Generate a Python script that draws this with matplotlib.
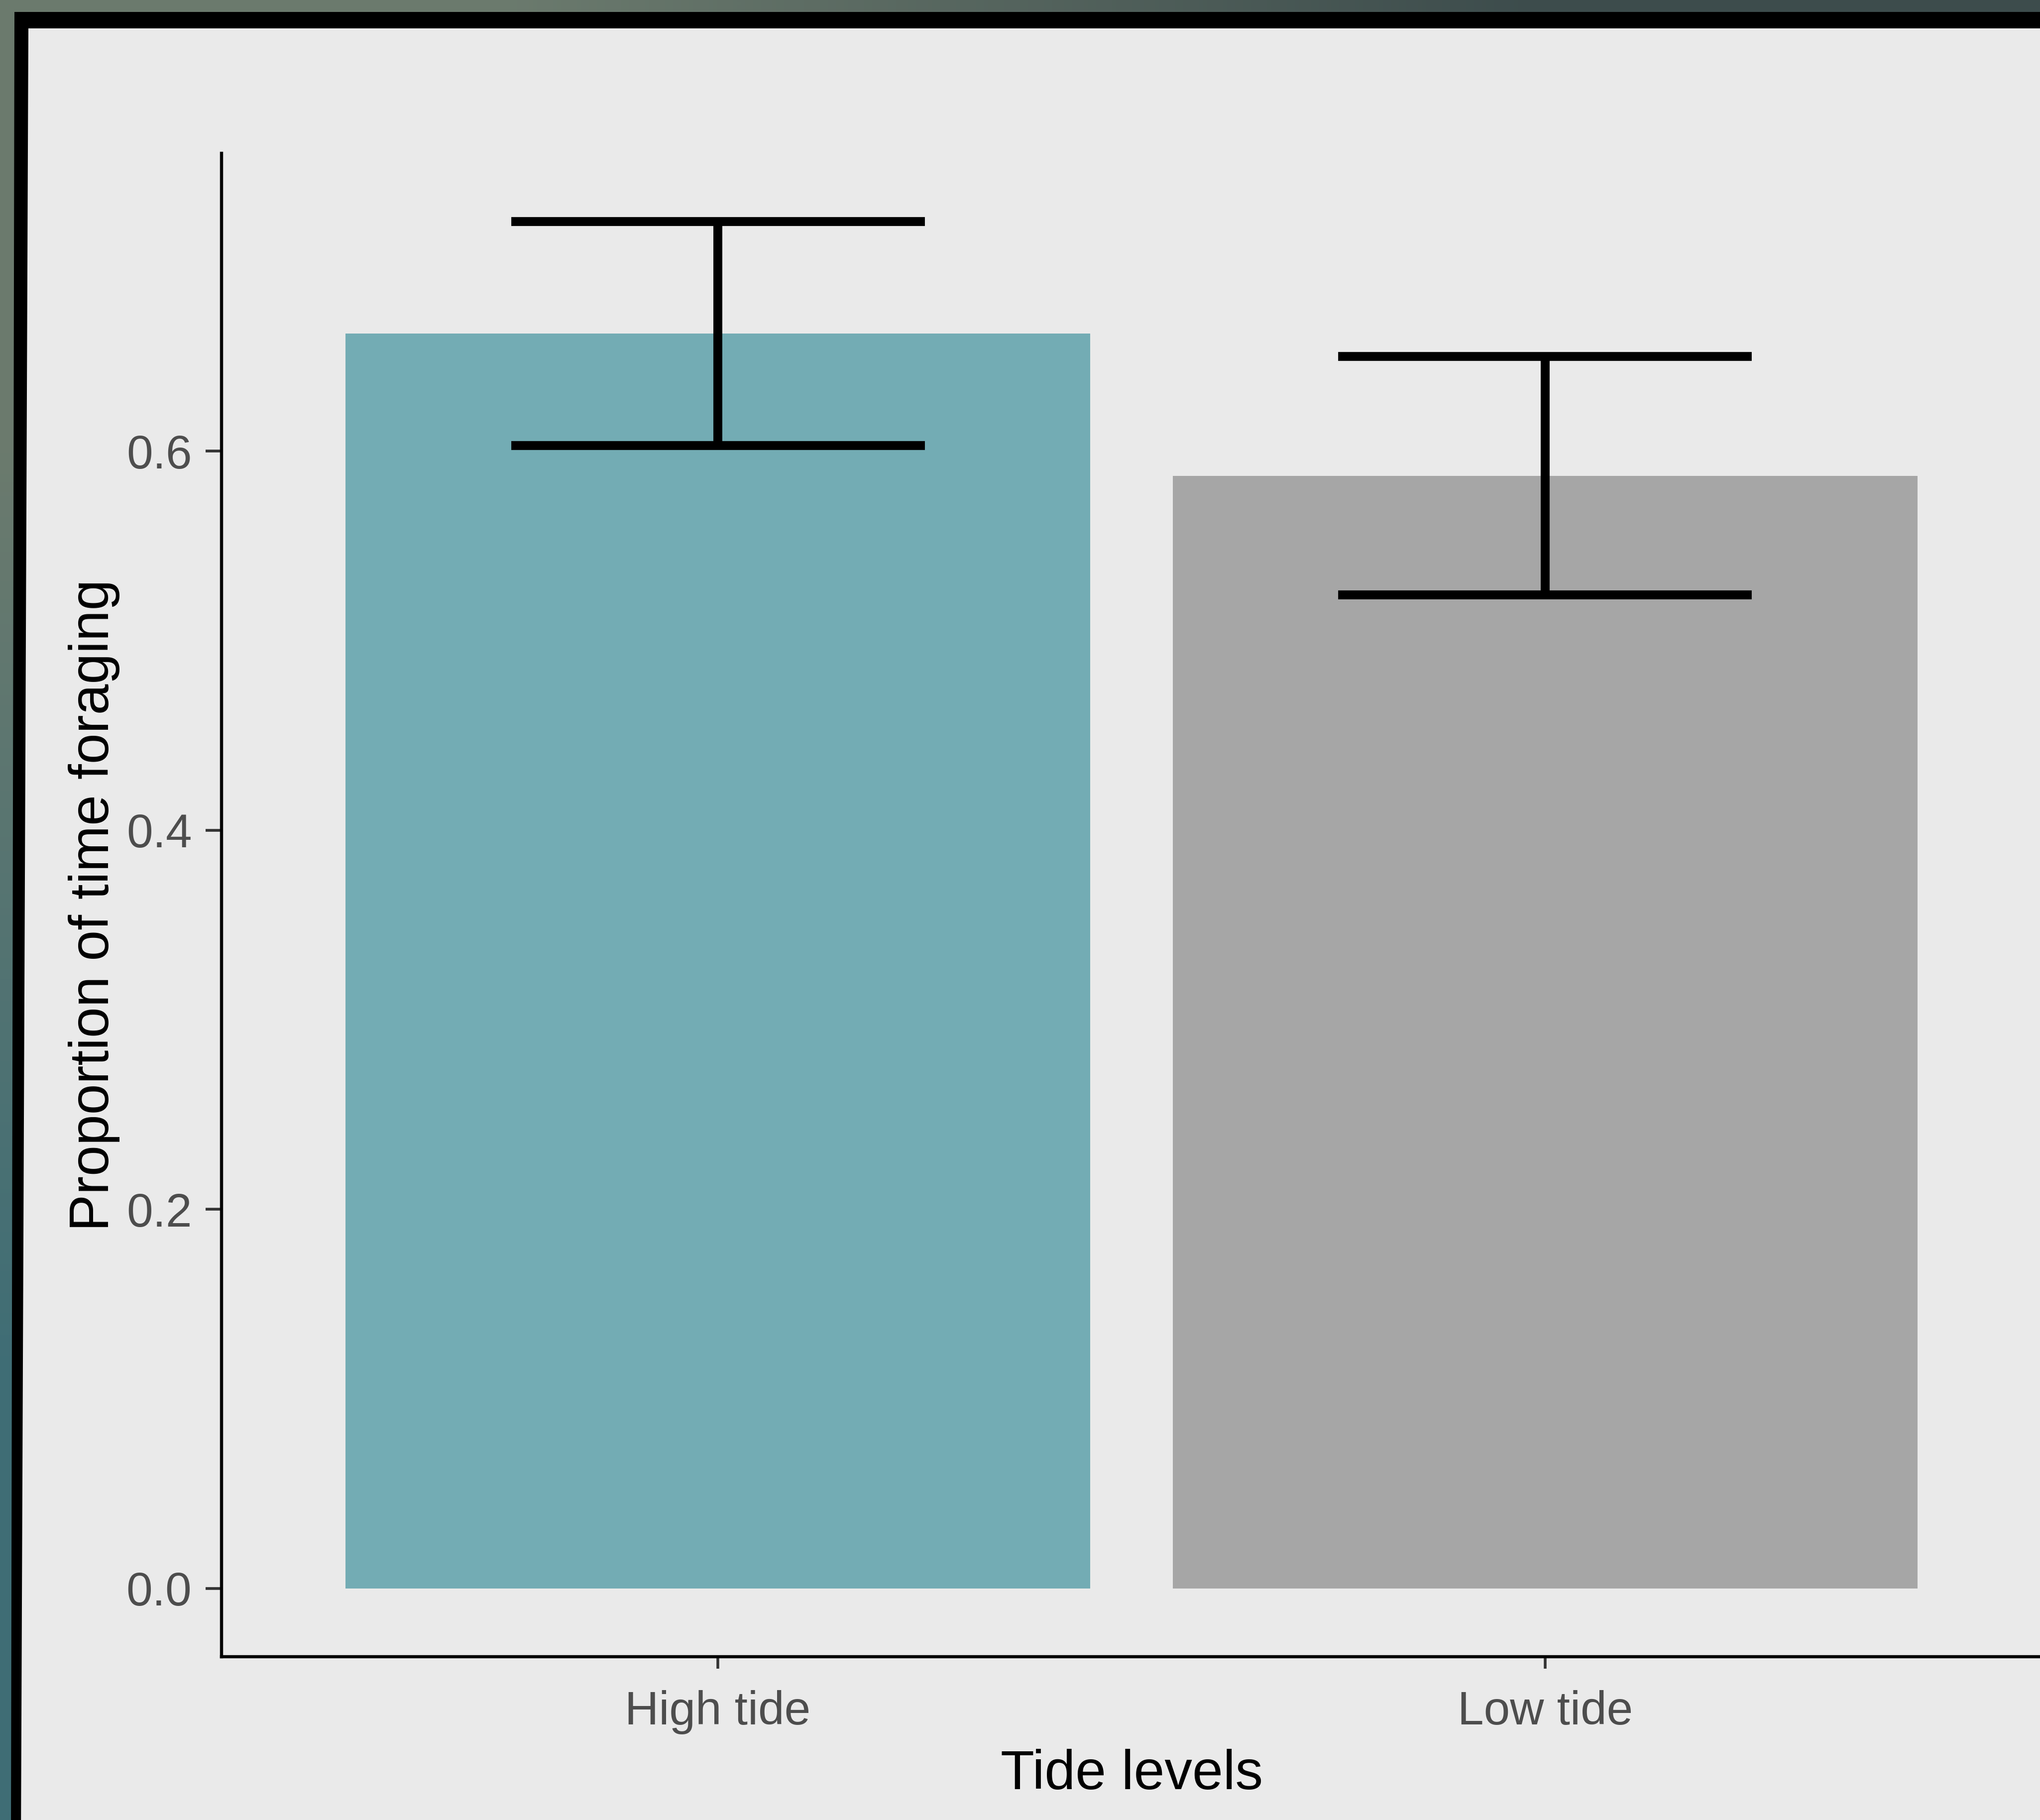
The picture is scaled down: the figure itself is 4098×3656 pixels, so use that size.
import numpy as np
import matplotlib
matplotlib.use('Agg')
import matplotlib.pyplot as plt
from matplotlib.patches import Polygon

# ── data ──────────────────────────────────────────────────────────────
tides = ['High tide', 'Low tide']
mean_forage = [0.662, 0.587]
se_forage = [0.059, 0.063]
bar_colors = ['#73ACB4', '#A6A6A6']

# ── canvas ────────────────────────────────────────────────────────────
W, H = 4098, 3656
DPI = 100
plt.rcParams['font.family'] = ['Liberation Sans', 'DejaVu Sans']

fig = plt.figure(figsize=(W / DPI, H / DPI), dpi=DPI)

# screenshot surround: photo edge + black window frame
bg = fig.add_axes([0, 0, 1, 1], zorder=0)
bg.set_xlim(0, W)
bg.set_ylim(H, 0)
bg.axis('off')
photo = np.array([[[0.42, 0.48, 0.43], [0.24, 0.30, 0.30]],
                  [[0.25, 0.43, 0.46], [0.25, 0.40, 0.42]]])
bg.imshow(photo, extent=(0, W, H, 0), interpolation='bilinear', aspect='auto')
bg.add_patch(Polygon([(29, 24), (W + 50, 24), (W + 50, H + 50), (22, H + 50)],
                     closed=True, facecolor='black', edgecolor='none'))
bg.add_patch(Polygon([(57, 57), (W + 50, 57), (W + 50, H + 50), (42, H + 50)],
                     closed=True, facecolor='#EAEAEA', edgecolor='none'))

# ── plot panel ────────────────────────────────────────────────────────
ax_l, ax_r, ax_t, ax_b = 445, 4101, 308, 3328
ax = fig.add_axes([ax_l / W, 1 - ax_b / H, (ax_r - ax_l) / W, (ax_b - ax_t) / H],
                  zorder=1)
ax.set_facecolor('none')

x = np.arange(1, len(tides) + 1)
mean = np.array(mean_forage)
se = np.array(se_forage)

ax.bar(x, mean, width=0.9, color=bar_colors, zorder=2)
ax.vlines(x, mean - se, mean + se, color='black', lw=13, zorder=3)
for y in (mean - se, mean + se):
    ax.hlines(y, x - 0.25, x + 0.25, color='black', lw=13, zorder=3)
for coll in ax.collections:
    coll.set_capstyle('butt')

top = (mean + se).max()
ax.set_xlim(0.4, len(tides) + 0.6)
ax.set_ylim(-0.05 * top, top * 1.05)

ax.set_xticks(x)
ax.set_xticklabels(tides)
ax.set_yticks([0.0, 0.2, 0.4, 0.6])
ax.set_yticklabels(['0.0', '0.2', '0.4', '0.6'])

for side in ('top', 'right'):
    ax.spines[side].set_visible(False)
for side in ('left', 'bottom'):
    ax.spines[side].set_linewidth(4.6)
    ax.spines[side].set_color('black')

ax.tick_params(axis='both', width=4, color='#333333',
               labelsize=68, labelcolor='#4D4D4D')
ax.tick_params(axis='y', length=23, pad=20)
ax.tick_params(axis='x', length=17, pad=31)

ax.set_xlabel('Tide levels', fontsize=80, color='black', labelpad=21)
ax.set_ylabel('Proportion of time foraging', fontsize=80, color='black',
              labelpad=9)

fig.savefig('out.png', dpi=DPI, facecolor='#EAEAEA')
